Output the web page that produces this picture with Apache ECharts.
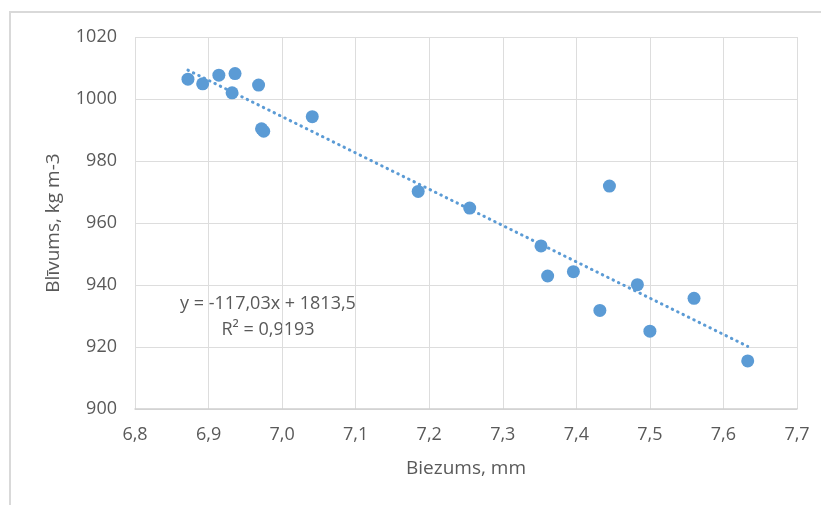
<!DOCTYPE html>
<html>
<head>
    <meta charset="utf-8">
    <title>Blivums / Biezums</title>
    <script src="https://cdn.jsdelivr.net/npm/echarts@6/dist/echarts.min.js"></script>
    <style>
        html, body { margin: 0; padding: 0; background: #fff; }
    </style>
</head>
<body>
    <div id="main" style="width: 821px;height:505px;"></div>
    <script type="text/javascript">
        // thickness (mm) and density (kg m-3)
        var biezums = [6.872, 6.892, 6.914, 6.936, 6.932, 6.968, 6.972, 6.975, 7.041, 7.185,
            7.255, 7.445, 7.352, 7.361, 7.396, 7.432, 7.483, 7.500, 7.560, 7.633];
        var blivums = [1006.4, 1004.9, 1007.7, 1008.2, 1002.0, 1004.5, 990.4, 989.6, 994.3, 970.2,
            964.8, 971.9, 952.6, 942.9, 944.3, 931.8, 940.1, 925.1, 935.7, 915.5];
        // linear trend line ends
        var trendX = [6.872, 7.633];
        var trendY = [1009.3, 920.2];
        var eqText = 'y = -117,03x + 1813,5';
        var r2Text = 'R\u00b2 = 0,9193';

        var points = biezums.map(function (x, i) { return [x, blivums[i]]; });
        var trend = trendX.map(function (x, i) { return [x, trendY[i]]; });

        var textColor = '#595959';
        var fontFam = '"Open Sans", "Liberation Sans", sans-serif';

        var myChart = echarts.init(document.getElementById('main'));
        myChart.setOption({
            backgroundColor: '#fff',
            animation: false,
            grid: { left: 135, right: 24, top: 37, bottom: 96, containLabel: false },
            xAxis: {
                type: 'value',
                min: 6.8, max: 7.7, interval: 0.1,
                name: 'Biezums, mm',
                nameLocation: 'middle',
                nameGap: 50,
                nameTextStyle: { color: textColor, fontSize: 19, fontFamily: fontFam },
                axisLine: { show: true, lineStyle: { color: '#d0d0d0', width: 1.5 } },
                axisTick: { show: false },
                axisLabel: {
                    color: textColor, fontSize: 18, fontFamily: fontFam, margin: 17,
                    formatter: function (v) { return v.toFixed(1).replace('.', ','); }
                },
                splitLine: { show: true, lineStyle: { color: '#dddddd', width: 1 } }
            },
            yAxis: {
                type: 'value',
                min: 900, max: 1020, interval: 20,
                name: 'Blīvums, kg m-3',
                nameLocation: 'middle',
                nameGap: 72,
                nameTextStyle: { color: textColor, fontSize: 19, fontFamily: fontFam },
                axisLine: { show: false },
                axisTick: { show: false },
                axisLabel: {
                    color: textColor, fontSize: 18, fontFamily: fontFam, margin: 18,
                    formatter: function (v) { return String(v); }
                },
                splitLine: { show: true, lineStyle: { color: '#dddddd', width: 1 } }
            },
            series: [
                {
                    type: 'line',
                    data: trend,
                    symbol: 'none',
                    z: 1,
                    lineStyle: { color: '#5b9bd5', width: 3, type: [0.5, 5.5], cap: 'round' }
                },
                {
                    type: 'scatter',
                    data: points,
                    symbolSize: 13,
                    z: 2,
                    itemStyle: { color: '#5b9bd5', opacity: 1 }
                }
            ],
            graphic: [
                {
                    type: 'rect',
                    shape: { x: 10, y: 12, width: 900, height: 600 },
                    style: { fill: 'none', stroke: '#d9d9d9', lineWidth: 2 },
                    silent: true
                },
                {
                    type: 'text',
                    x: 268, y: 304,
                    style: {
                        text: eqText, fill: textColor, fontSize: 18, fontFamily: fontFam,
                        align: 'center', verticalAlign: 'middle'
                    }
                },
                {
                    type: 'text',
                    x: 268, y: 330,
                    style: {
                        text: r2Text, fill: textColor, fontSize: 18, fontFamily: fontFam,
                        align: 'center', verticalAlign: 'middle'
                    }
                }
            ]
        });
    </script>
</body>
</html>
